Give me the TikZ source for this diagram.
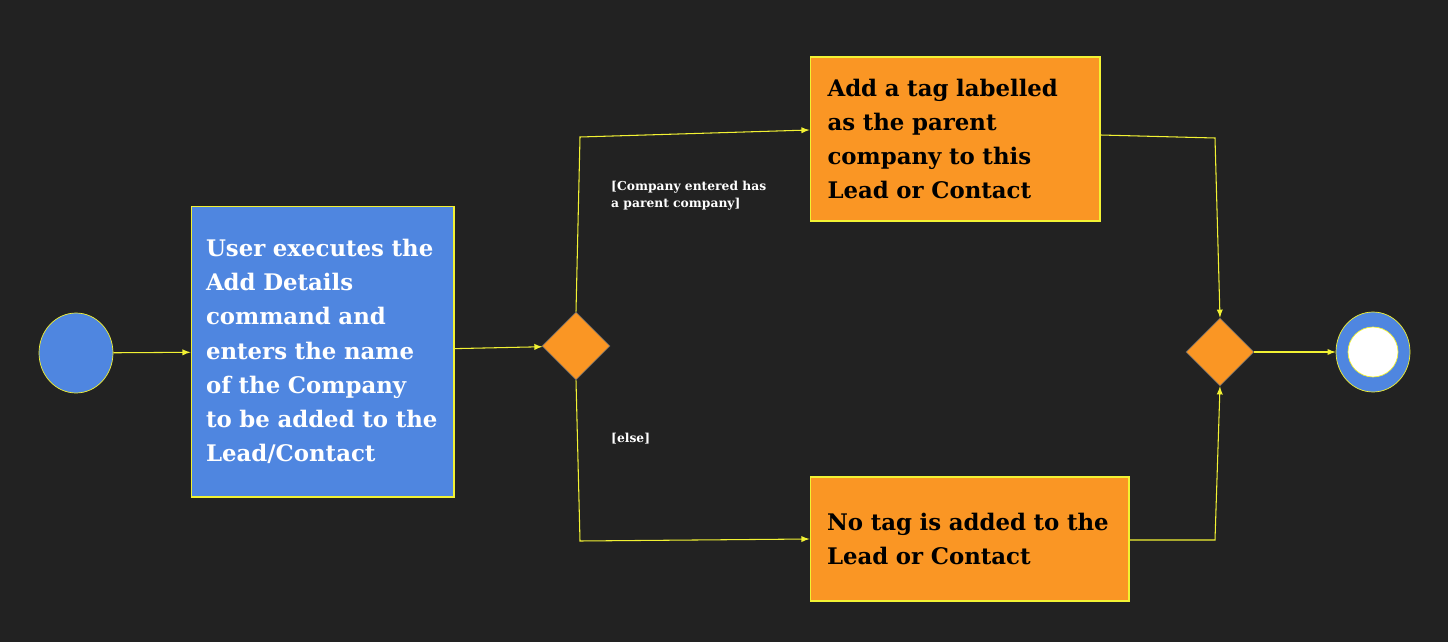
\documentclass[tikz,border=0pt]{standalone}
\usepackage{fontspec}
\setmainfont{DejaVu Serif}
\usetikzlibrary{shapes.geometric}
\definecolor{bg}{HTML}{222222}
\definecolor{actblue}{HTML}{4F86E0}
\definecolor{actorange}{HTML}{FA9624}
\definecolor{edge}{HTML}{F2F233}
\tikzset{%
  flow/.style = {-latex,edge,line width=0.6pt},
  act/.style = {rectangle,draw=edge,line width=0.6pt,align=left,
        font=\fontsize{13}{19.5}\selectfont\bfseries,inner sep=0pt},
  choice/.style = {diamond,fill=actorange,draw=black!60,minimum width=1.36cm,
        minimum height=1.36cm,inner sep=0pt},
  guard/.style = {text=white,align=left,font=\fontsize{7}{9.6}\selectfont\bfseries}
}
\begin{document}
\begin{tikzpicture}[x=0.02cm,y=-0.02cm]
    \fill[bg] (0,0) rectangle (1448,642);
    \node[ellipse,fill=actblue,draw=edge,minimum width=1.48cm,minimum height=1.6cm] (start) at (76,353) {};
    \node[act,fill=actblue,text=white,minimum width=5.26cm,minimum height=5.82cm,text width=4.66cm] (enter) at (322.5,351.5)
        {User executes the\\Add Details\\command and\\enters the name\\of the Company\\to be added to the\\Lead/Contact};
    \node[choice] (split) at (576,346) {};
    \node[act,fill=actorange,minimum width=5.8cm,minimum height=3.28cm,text width=5.1cm] (tag) at (955,139)
        {Add a tag labelled\\as the parent\\company to this\\Lead or Contact};
    \node[act,fill=actorange,minimum width=6.38cm,minimum height=2.48cm,text width=5.7cm] (notag) at (969.5,539)
        {No tag is added to the\\Lead or Contact};
    \node[choice] (merge) at (1220,352) {};
    \node[ellipse,fill=actblue,draw=edge,minimum width=1.48cm,minimum height=1.6cm] (stop) at (1373,352) {};
    \node[circle,fill=white,draw=edge,minimum size=1cm] (stopdot) at (stop) {};
    \coordinate (tl) at (580,137);
    \coordinate (bl) at (580,541);
    \coordinate (tr) at (1215,138);
    \coordinate (br) at (1215,540);
    \draw[flow] (start) -- (enter);
    \draw[flow] (enter) -- (split);
    \draw[flow] (split.north) -- (tl) -- (tag.west |- 0,130);
    \draw[flow] (split.south) -- (bl) -- (notag.west |- 0,539);
    \draw[flow] (tag.east |- 0,135) -- (tr) -- (merge.north);
    \draw[flow] (notag.east |- 0,540) -- (br) -- (merge.south);
    \draw[flow] (merge) -- (stop);
    \node[guard,anchor=north west] (g1) at (605,175) {[Company entered has\\a parent company]};
    \node[guard,anchor=north west] (g2) at (605,427) {[else]};
\end{tikzpicture}
\end{document}
